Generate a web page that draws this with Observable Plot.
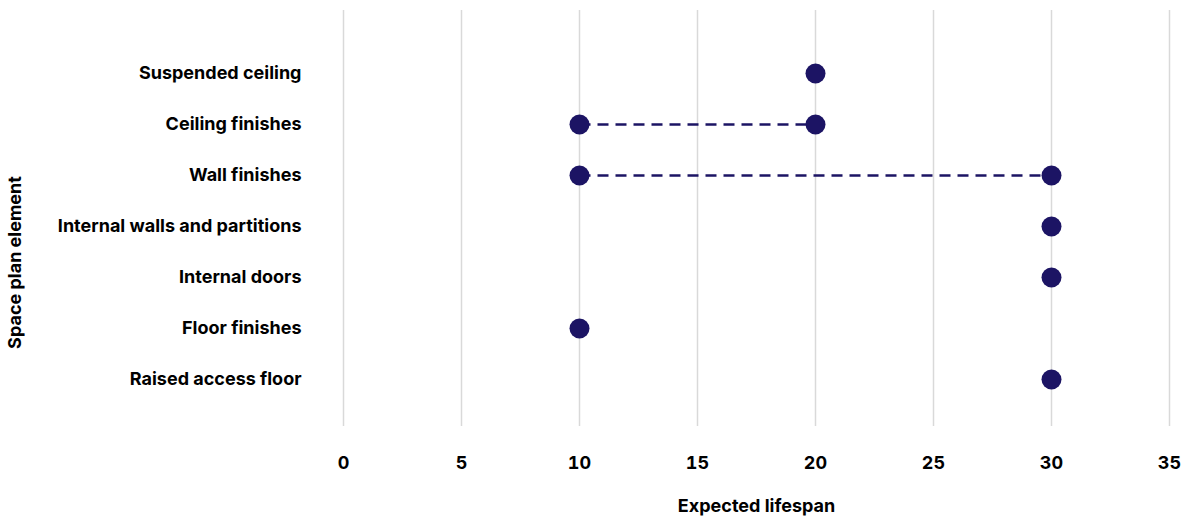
<!DOCTYPE html>
<html>
<head>
<meta charset="utf-8">
<script src="https://cdn.jsdelivr.net/npm/d3@7"></script>
<script src="https://cdn.jsdelivr.net/npm/@observablehq/plot@0.6"></script>
<style>
  body { margin: 0; background: #fff; }
  #chart svg { font-family: Inter, "Noto Sans", sans-serif; }
</style>
</head>
<body>
<div id="chart"></div>
<script>
const elements = ["Suspended ceiling", "Ceiling finishes", "Wall finishes", "Internal walls and partitions", "Internal doors", "Floor finishes", "Raised access floor"];
const lifespanMin = [20, 10, 10, 30, 30, 10, 30];
const lifespanMax = [20, 20, 30, 30, 30, 10, 30];
const xTicks = [0, 5, 10, 15, 20, 25, 30, 35];

const ranges = elements.map((e, i) => ({element: e, min: lifespanMin[i], max: lifespanMax[i]}));
const dashed = ranges.filter(d => d.min !== d.max);
const dots = [];
ranges.forEach(d => {
  dots.push({element: d.element, value: d.min});
  if (d.max !== d.min) dots.push({element: d.element, value: d.max});
});

const color = "#1c1464";

const chart = Plot.plot({
  width: 1184,
  height: 517,
  marginLeft: 343,
  marginRight: 15,
  marginTop: 46.4,
  marginBottom: 112.4,
  style: {fontFamily: "Inter, 'Noto Sans', sans-serif", fontSize: "18px", fontWeight: "700", color: "#000"},
  x: {domain: [0, 35], ticks: xTicks, label: null},
  y: {type: "point", domain: elements, padding: 0.5, label: null},
  marks: [
    Plot.ruleX(xTicks, {stroke: "#d9d9d9", strokeWidth: 1.5, strokeOpacity: 1, insetTop: -36.4, insetBottom: -21.4}),
    Plot.axisX({ticks: xTicks, tickSize: 0, tickPadding: 51, label: null, fontSize: 18, fontWeight: 700}),
    Plot.axisY({tickSize: 0, tickPadding: 42, label: null, fontSize: 18, fontWeight: 700}),
    Plot.link(dashed, {x1: "min", x2: "max", y1: "element", y2: "element", stroke: color, strokeWidth: 2.5, strokeDasharray: "11,7", insetLeft: 12}),
    Plot.dot(dots, {x: "value", y: "element", r: 10, fill: color, stroke: "none"}),
    Plot.text(["Expected lifespan"], {frameAnchor: "bottom", dy: 101, lineAnchor: "middle", fontSize: 18, fontWeight: 700, fill: "#000"}),
    Plot.text(["Space plan element"], {frameAnchor: "left", dx: -328, dy: 36.5, rotate: -90, textAnchor: "middle", lineAnchor: "middle", fontSize: 18, fontWeight: 700, fill: "#000"})
  ]
});
document.getElementById("chart").appendChild(chart);
</script>
</body>
</html>
